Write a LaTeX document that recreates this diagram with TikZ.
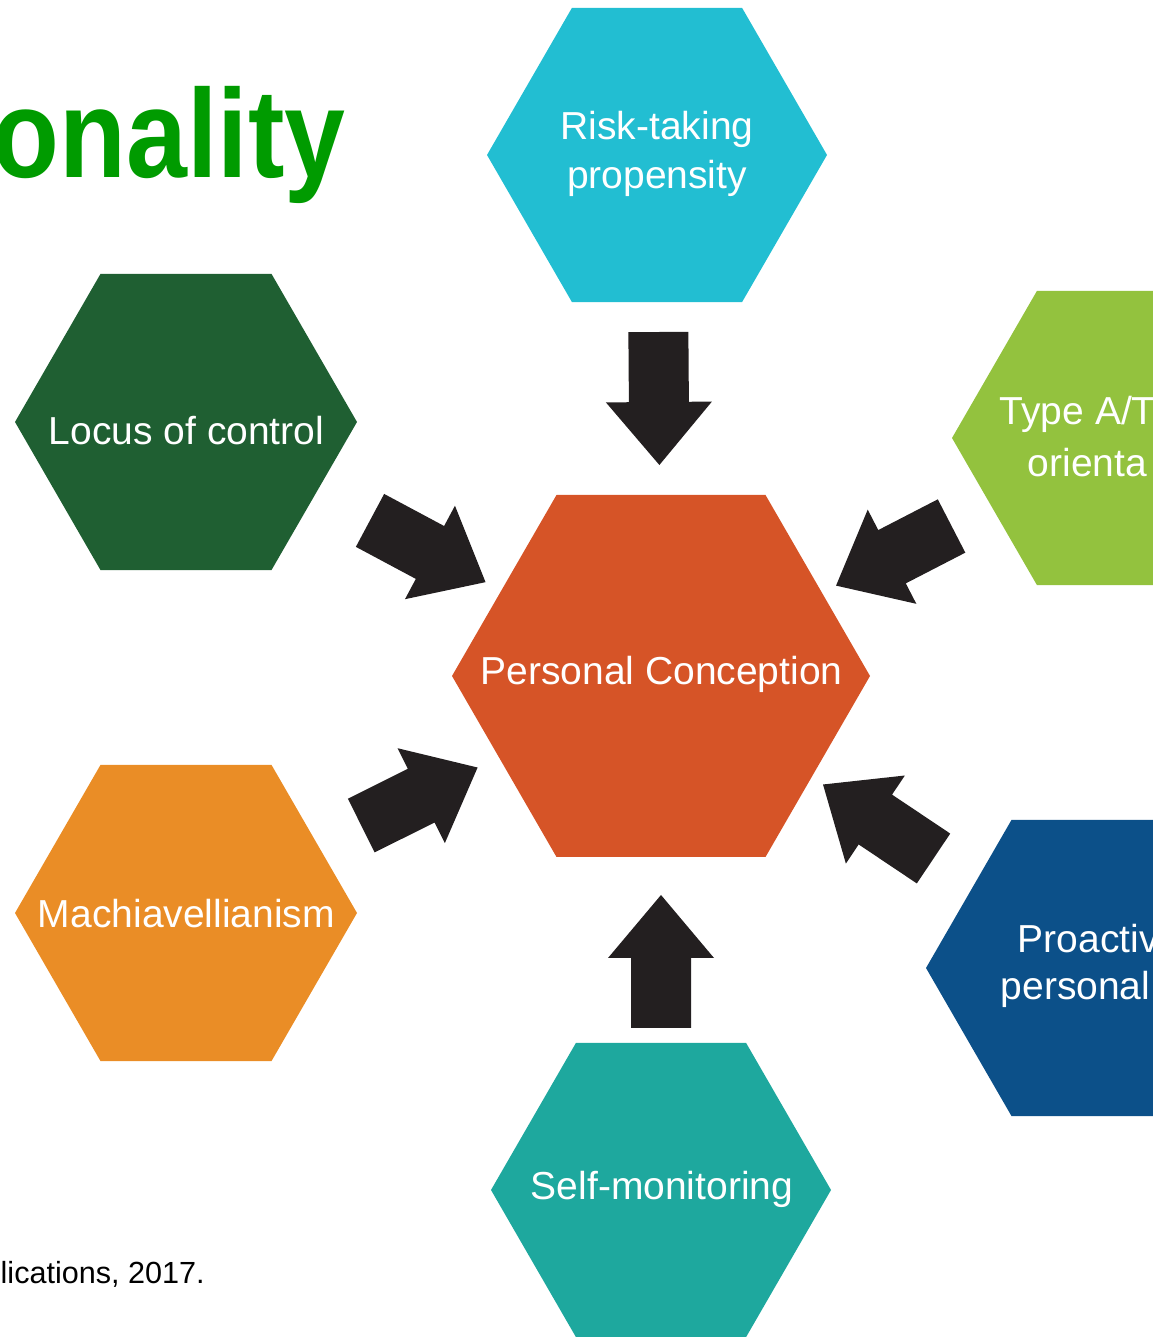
\documentclass[tikz,border=0pt]{standalone}
\usepackage{fontspec}
\setmainfont{Liberation Sans}
\usetikzlibrary{positioning}
\usetikzlibrary{calc}
\usetikzlibrary{shapes.geometric}
\definecolor{titlegreen}{RGB}{0,155,0}
\definecolor{riskcyan}{RGB}{34,190,210}
\definecolor{locusgreen}{RGB}{31,95,50}
\definecolor{typelime}{RGB}{147,194,62}
\definecolor{conceptred}{RGB}{214,84,39}
\definecolor{machorange}{RGB}{234,141,38}
\definecolor{proactblue}{RGB}{12,80,137}
\definecolor{selfteal}{RGB}{30,168,158}
\definecolor{arrowblack}{RGB}{35,31,32}

\newcommand{\hexfont}{\fontsize{11.1}{14}\selectfont}

% fat arrow from a hexagon towards the centre one
% #1 = source hexagon, #2 = gap of the tip, #3 = gap of the tail
\newcommand{\feedarrow}[3]{%
  \coordinate (tip) at ($(pc)!#2!(#1)$);
  \coordinate (tail) at ($(pc)!#3!(#1)$);
  \coordinate (neck) at ($(tip)!0.63cm!(tail)$);
  \fill[blockarrow] ($(tail)!0.30cm!90:(tip)$) -- ($(neck)!0.30cm!90:(tip)$)
    -- ($(neck)!0.53cm!90:(tip)$) -- (tip) -- ($(neck)!0.53cm!-90:(tip)$)
    -- ($(neck)!0.30cm!-90:(tip)$) -- ($(tail)!0.30cm!-90:(tip)$) -- cycle;
}

\begin{document}
\begin{tikzpicture}[hexagon/.style={regular polygon, regular polygon sides=6,
    minimum size=#1, inner sep=0pt, outer sep=0pt},
  hexagon/.default=3.40cm,
  hextext/.style={text=white, font=\hexfont, align=center, inner sep=0pt},
  blockarrow/.style={fill=arrowblack}]

\useasboundingbox (0,0) rectangle (11.53,13.37);
\clip (0,0) rectangle (11.53,13.37);

% hexagons
\node [hexagon, fill=riskcyan] (risk) at (6.57,11.82) {};
\node [hexagon=3.42cm, fill=locusgreen] (locus) at (1.86,9.15) {};
\node [hexagon, fill=typelime] (typea) at (11.22,8.99) {};
\node [hexagon=4.18cm, fill=conceptred] (pc) at (6.61,6.61) {};
\node [hexagon=3.42cm, fill=machorange] (mach) at (1.86,4.24) {};
\node [hexagon=3.42cm, fill=proactblue] (proact) at (10.97,3.69) {};
\node [hexagon, fill=selfteal] (selfm) at (6.61,1.47) {};

% labels
\node [hextext] (risk-text) at (6.57,11.83) {Risk-taking\\propensity};
\node [hextext, anchor=base] (locus-text) at (1.865,8.92) {Locus of control};
\node [hextext, anchor=base west] (typea-text1) at (9.99,9.12) {Type A/T};
\node [hextext, anchor=base west] (typea-text2) at (10.27,8.60) {orienta};
\node [hextext, anchor=base] (pc-text) at (6.615,6.52) {Personal Conception};
\node [hextext, anchor=base] (mach-text) at (1.865,4.09) {Machiavellianism};
\node [hextext, anchor=base west] (proact-text1) at (10.17,3.84) {Proactiv};
\node [hextext, anchor=base west] (proact-text2) at (10.00,3.37) {personal};
\node [hextext, anchor=base] (selfm-text) at (6.62,1.37) {Self-monitoring};

% arrows into the centre
\feedarrow{risk}{2.11cm}{3.44cm}
\feedarrow{locus}{1.99cm}{3.30cm}
\feedarrow{typea}{1.97cm}{3.27cm}
\feedarrow{mach}{2.05cm}{3.35cm}
\feedarrow{proact}{1.95cm}{3.28cm}
\feedarrow{selfm}{2.19cm}{3.52cm}

% title and source line
\node [anchor=base east, inner sep=0pt, xscale=0.87, text=titlegreen,
  font=\fontsize{35.8}{40}\selectfont\bfseries] (title) at (3.46,11.59) {onality};
\node [anchor=base west, inner sep=0pt, font=\fontsize{8.7}{10}\selectfont]
  (source) at (0.0,0.54) {lications, 2017.};

\end{tikzpicture}
\end{document}
